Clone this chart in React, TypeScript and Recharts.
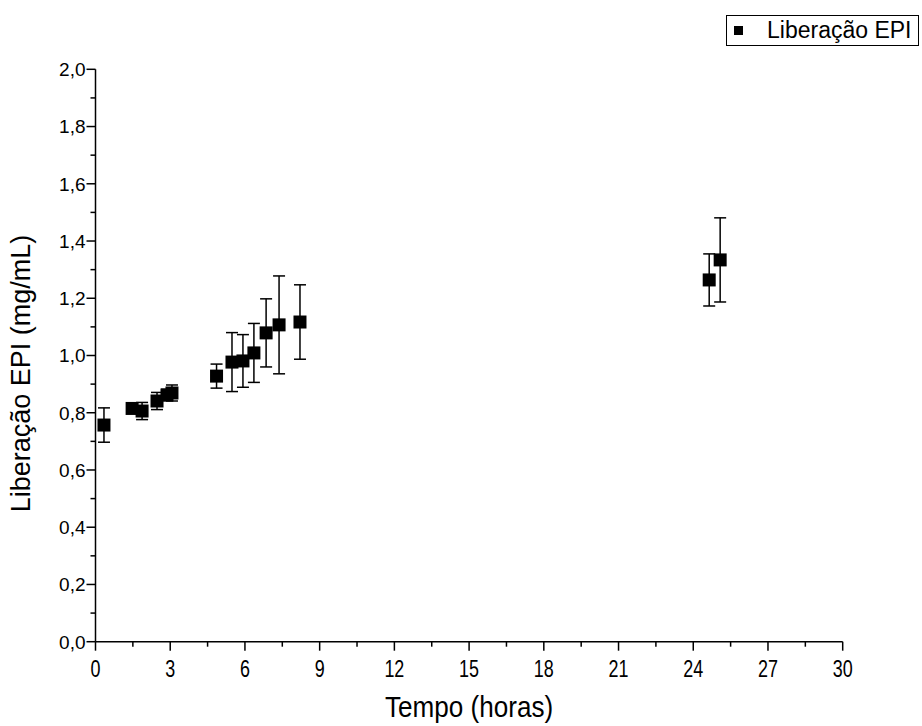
import { Legend, Scatter, ScatterChart, ErrorBar, XAxis, YAxis } from 'recharts';

// tempo (h), liberação (mg/mL), desvio
const times = [0.34, 1.47, 1.87, 2.47, 2.87, 3.07, 4.86, 5.48, 5.92, 6.36, 6.85, 7.37, 8.21, 24.64, 25.08];
const release = [0.757, 0.815, 0.806, 0.841, 0.862, 0.869, 0.928, 0.977, 0.981, 1.009, 1.079, 1.107, 1.117, 1.264, 1.334];
const releaseErr = [0.06, 0.01, 0.03, 0.03, 0.02, 0.028, 0.042, 0.103, 0.092, 0.103, 0.119, 0.171, 0.13, 0.091, 0.147];

const xTicks = [0, 1.5, 3, 4.5, 6, 7.5, 9, 10.5, 12, 13.5, 15, 16.5, 18, 19.5, 21, 22.5, 24, 25.5, 27, 28.5, 30];
const yTicks = [0, 0.1, 0.2, 0.3, 0.4, 0.5, 0.6, 0.7, 0.8, 0.9, 1, 1.1, 1.2, 1.3, 1.4, 1.5, 1.6, 1.7, 1.8, 1.9, 2];

const seriesName = 'Liberação EPI';

const data = times.map((t, i) => ({ t, v: release[i], err: releaseErr[i] }));

const SANS = "'Liberation Sans', Arial, sans-serif";

// the x axis texts are condensed in the original, squeeze them horizontally
const XTick = (props: any) => {
	const { x, y, payload } = props;
	const major = Math.round(payload.value * 10) % 30 === 0;
	return (
		<g>
			<line x1={x} y1={y} x2={x} y2={y + (major ? 9 : 5)} stroke='#000' strokeWidth={1.5} />
			{major && (
				<text
					transform={`translate(${x}, ${y + 35}) scale(0.78, 1)`}
					textAnchor='middle'
					fontSize={23}
					fontFamily={SANS}
					fill='#000'>
					{payload.value}
				</text>
			)}
		</g>
	);
};

const YTick = (props: any) => {
	const { x, y, payload } = props;
	const major = Math.round(payload.value * 10) % 2 === 0;
	return (
		<g>
			<line x1={x} y1={y} x2={x - (major ? 9 : 5)} y2={y} stroke='#000' strokeWidth={1.5} />
			{major && (
				<text x={x - 10} y={y} dy='0.36em' textAnchor='end' fontSize={19} fontFamily={SANS} fill='#000'>
					{payload.value.toFixed(1).replace('.', ',')}
				</text>
			)}
		</g>
	);
};

const Square = (props: any) => {
	const { cx, cy } = props;
	return <rect x={cx - 6.5} y={cy - 6.5} width={13} height={13} fill='#000' />;
};

const LegendBox = () => (
	<div
		style={{
			border: '1px solid #000',
			width: 191,
			height: 29,
			boxSizing: 'content-box',
			display: 'flex',
			alignItems: 'center',
			fontFamily: SANS,
			fontSize: 23,
			background: '#fff',
			whiteSpace: 'nowrap',
		}}>
		<span style={{ display: 'inline-block', width: 9, height: 9, background: '#000', marginLeft: 7, flexShrink: 0 }} />
		<span style={{ marginLeft: 24 }}>{seriesName}</span>
	</div>
);

export default function App() {
	// chart placed over the body margin so its coordinates are the page's
	return (
		<div style={{ position: 'absolute', left: 0, top: 0 }}>
			<ScatterChart width={922} height={726} margin={{ top: 69.3, right: 79.3, bottom: 0, left: 0 }}>
				<XAxis
					type='number'
					dataKey='t'
					domain={[0, 30]}
					ticks={xTicks}
					interval={0}
					height={84.3}
					tickSize={0}
					tickMargin={0}
					tick={<XTick />}
					stroke='#000'
					strokeWidth={1.5}
					label={(props: any) => {
						const cx = props.viewBox.x + props.viewBox.width / 2;
						const by = props.viewBox.y + 75.5;
						return (
							<text
								transform={`translate(${cx}, ${by}) scale(0.9, 1)`}
								textAnchor='middle'
								fontSize={29}
								fontFamily={SANS}
								fill='#000'>
								Tempo (horas)
							</text>
						);
					}}
				/>
				<YAxis
					type='number'
					dataKey='v'
					domain={[0, 2]}
					ticks={yTicks}
					interval={0}
					width={95.5}
					tickSize={0}
					tickMargin={0}
					tick={<YTick />}
					stroke='#000'
					strokeWidth={1.5}
					label={(props: any) => {
						const cy = props.viewBox.y + props.viewBox.height / 2 + 18;
						return (
							<text
								x={20}
								y={cy}
								transform={`rotate(-90, 20, ${cy})`}
								textAnchor='middle'
								dy='0.36em'
								fontSize={27}
								fontFamily={SANS}
								fill='#000'>
								Liberação EPI (mg/mL)
							</text>
						);
					}}
				/>
				<Legend
					layout='horizontal'
					verticalAlign='middle'
					wrapperStyle={{ top: 15, left: 726, width: 193 }}
					content={<LegendBox />}
				/>
				<Scatter name={seriesName} data={data} shape={<Square />} isAnimationActive={false}>
					<ErrorBar dataKey='err' direction='y' width={6} stroke='#000' strokeWidth={1.5} />
				</Scatter>
			</ScatterChart>
		</div>
	);
}
